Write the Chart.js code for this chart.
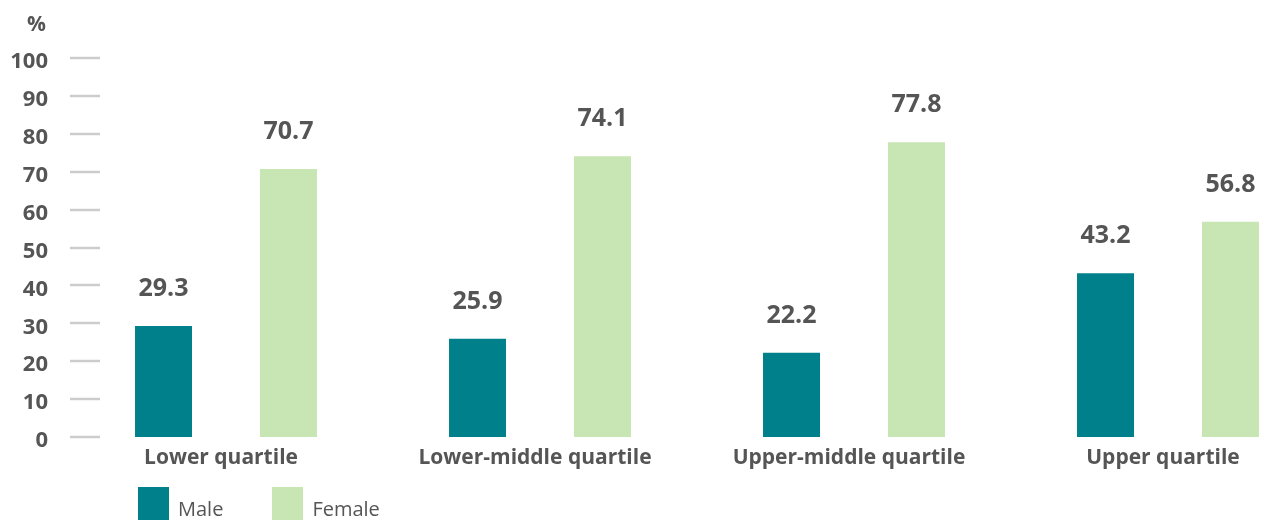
<!DOCTYPE html>
<html>
<head>
<meta charset="utf-8">
<script src="https://cdn.jsdelivr.net/npm/chart.js@4/dist/chart.umd.min.js"></script>
<style>
  html, body { margin: 0; padding: 0; background: #fff; overflow: hidden; }
  body { width: 1264px; height: 520px; position: relative; font-family: "Open Sans", sans-serif; }
  #wrap { position: absolute; left: 0; top: 0; width: 1330px; height: 520px; }
  #pct { position: absolute; left: 27px; top: 9px; font-size: 21px; font-weight: bold; color: #555; }
  #legend { position: absolute; left: 138px; top: 487px; display: flex; font-size: 20px; color: #555; }
  .item { display: flex; align-items: flex-start; margin-right: 49px; }
  .box { width: 31px; height: 40px; margin-right: 9px; }
  .lbl { padding-top: 8px; }
</style>
</head>
<body>
<div id="wrap"><canvas id="myChart"></canvas></div>
<div id="pct">%</div>
<div id="legend"></div>
<script>
const categories = ["Lower quartile", "Lower-middle quartile", "Upper-middle quartile", "Upper quartile"]
const seriesNames = ["Male", "Female"]
const male = [29.3, 25.9, 22.2, 43.2]
const female = [70.7, 74.1, 77.8, 56.8]
const yTicks = [0, 10, 20, 30, 40, 50, 60, 70, 80, 90, 100]

const colors = ["#00808A", "#C8E6B4"]
const textColor = "#555555"

// legend in html
document.getElementById("legend").innerHTML = seriesNames.map((n, i) =>
  `<div class="item"><div class="box" style="background:${colors[i]}"></div><span class="lbl">${n}</span></div>`
).join("")

// short grey marks at each y tick, just inside the plot
const stubs = {
  id: "stubs",
  beforeDatasetsDraw(chart) {
    const c = chart.ctx, y = chart.scales.y, left = chart.chartArea.left
    c.save()
    c.strokeStyle = "#cccccc"
    c.lineWidth = 2.5
    yTicks.forEach(v => {
      const py = Math.round(y.getPixelForValue(v))
      c.beginPath()
      c.moveTo(left + 1, py)
      c.lineTo(left + 31, py)
      c.stroke()
    })
    c.restore()
  }
}

// value labels above bars
const valueLabels = {
  id: "valueLabels",
  afterDatasetsDraw(chart) {
    const c = chart.ctx
    c.save()
    c.font = "bold 25px 'Open Sans', sans-serif"
    c.fillStyle = textColor
    c.textAlign = "center"
    c.textBaseline = "middle"
    chart.data.datasets.forEach((ds, i) => {
      chart.getDatasetMeta(i).data.forEach((bar, j) => {
        c.fillText(ds.data[j].toFixed(1), bar.x, bar.y - 37)
      })
    })
    c.restore()
  }
}

const ctx = document.getElementById("myChart")
let qraf = new Chart(ctx, {
  type: "bar",
  data: {
    labels: categories,
    datasets: [
      { label: seriesNames[0], data: male, backgroundColor: colors[0] },
      { label: seriesNames[1], data: female, backgroundColor: colors[1] }
    ]
  },
  options: {
    responsive: true,
    maintainAspectRatio: false,
    animation: false,
    categoryPercentage: 0.796,
    barPercentage: 0.456,
    layout: { padding: { top: 58, right: 5, bottom: 0, left: 0 } },
    plugins: {
      legend: { display: false },
      tooltip: { enabled: false }
    },
    scales: {
      y: {
        min: 0,
        max: 100,
        afterFit(s) { s.width = 69 },
        afterBuildTicks(s) { s.ticks = yTicks.map(v => ({ value: v })) },
        grid: { display: false },
        border: { display: false },
        ticks: {
          padding: 13,
          labelOffset: 4,
          color: textColor,
          font: { family: "Open Sans", size: 22, weight: "bold" }
        }
      },
      x: {
        afterFit(s) { s.height = 83 },
        grid: { display: false },
        border: { display: false },
        ticks: {
          padding: 0,
          labelOffset: -5,
          maxRotation: 0,
          autoSkip: false,
          color: textColor,
          font: { family: "Open Sans", size: 21, weight: "bold" }
        }
      }
    }
  },
  plugins: [stubs, valueLabels]
})
</script>
</body>
</html>
